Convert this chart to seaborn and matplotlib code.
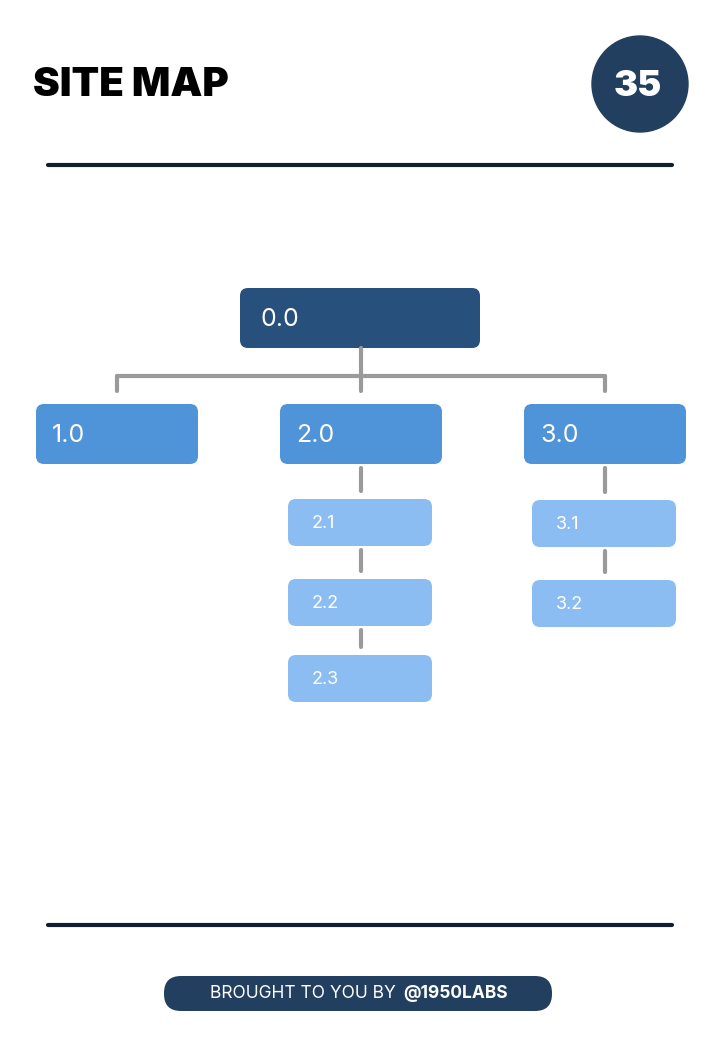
import matplotlib.pyplot as plt
import seaborn as sns
from matplotlib.patches import FancyBboxPatch, Circle

sns.set_theme(style="white")
plt.rcParams['font.family'] = ['Inter', 'DejaVu Sans']

title = "SITE MAP"
page_no = "35"
footer_plain = "BROUGHT TO YOU BY "
footer_bold = "@1950LABS"

# top-level sections: label, column center
top_labels = ["1.0", "2.0", "3.0"]
top_cols = [117, 361, 605]
root_label = "0.0"
# sub pages per section (column index -> labels)
sub_pages = {1: ["2.1", "2.2", "2.3"], 2: ["3.1", "3.2"]}

dark = "#244466"
root_c = "#27507c"
mid_c = "#4f93d8"
light_c = "#8bbdf3"
grey = "#9a9a9a"

fig = plt.figure(figsize=(7.2, 10.4), dpi=100)
ax = fig.add_axes([0, 0, 1, 1])
ax.set_xlim(0, 720)
ax.set_ylim(1040, 0)
ax.axis("off")

def box(x0, y0, w, h, color, label, size, pad_x):
    ax.add_patch(FancyBboxPatch((x0 + 8, y0 + 8), w - 16, h - 16,
                                boxstyle="round,pad=8", fc=color, ec="none"))
    ax.text(x0 + pad_x, y0 + h / 2 + 1, label, color="white", fontsize=size,
            va="center", ha="left")

# header
ax.text(33, 86, title, fontsize=29, fontweight="black", va="center", ha="left", color="black")
ax.add_patch(Circle((640, 84), 48, color="#233f5f"))
ax.text(638, 86, page_no, fontsize=26, fontweight="black", color="white", ha="center", va="center")
ax.plot([48, 672], [165, 165], color="#0f1f2e", lw=3)
ax.plot([48, 672], [925, 925], color="#0f1f2e", lw=3)

# connectors
ax.plot([361, 361], [348, 376], color=grey, lw=3)
ax.plot([top_cols[0], top_cols[-1]], [376, 376], color=grey, lw=3)
for cx in top_cols:
    ax.plot([cx, cx], [376, 391], color=grey, lw=3)

# boxes
box(240, 288, 240, 60, root_c, root_label, 18, 21)
for cx, lab in zip(top_cols, top_labels):
    box(cx - 81, 404, 162, 60, mid_c, lab, 18, 16)

sub_y = [499, 579, 655]
for ci, labs in sub_pages.items():
    cx = top_cols[ci]
    prev_bottom = 464
    for i, lab in enumerate(labs):
        y0 = sub_y[i] + (1 if ci == 2 else 0)
        ax.plot([cx, cx], [prev_bottom + 4, y0 - 8], color=grey, lw=3)
        box(cx - 73, y0, 144, 47, light_c, lab, 13, 24)
        prev_bottom = y0 + 47

# footer pill
ax.add_patch(FancyBboxPatch((182, 976), 352, 35, boxstyle="round,pad=0,rounding_size=17.5",
                            fc="#233f5f", ec="none", mutation_aspect=1))
ax.add_patch(FancyBboxPatch((164, 976), 388, 35, boxstyle="round,pad=0,rounding_size=17",
                            fc="#233f5f", ec="none"))
ax.text(401, 994, footer_plain, color="white", fontsize=12.5, ha="right", va="center")
ax.text(403, 994, footer_bold, color="white", fontsize=12.5, fontweight="bold", ha="left", va="center")

fig.savefig("out.png", dpi=100, facecolor="white")
